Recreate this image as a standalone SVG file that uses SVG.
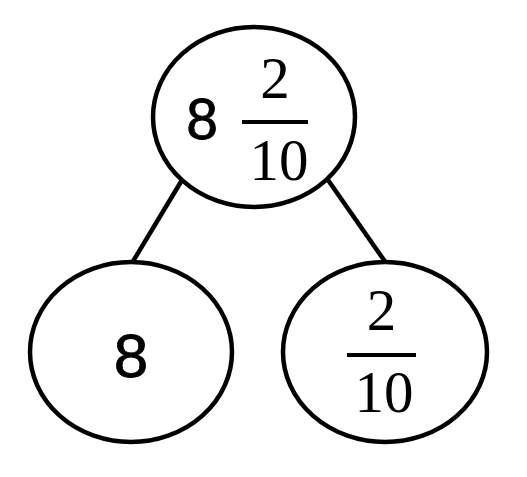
<svg xmlns="http://www.w3.org/2000/svg" width="527" height="477" viewBox="0 0 527 477">
<style>
.node{fill:#fff;stroke:#000;stroke-width:4.5}
.edge{stroke:#000;stroke-width:4.5;fill:none}
.sans{font-family:"Liberation Sans","DejaVu Sans",sans-serif;fill:#000;stroke:#000;stroke-width:0.8;text-anchor:middle}
.serif{font-family:"Liberation Serif","Times New Roman",serif;fill:#000;text-anchor:middle}
.bar{stroke:#000;stroke-width:4}
</style>
<rect width="527" height="477" fill="#fff"/>
<g id="connectors">
<line class="edge" x1="182" y1="180" x2="132" y2="263"/>
<line class="edge" x1="328" y1="180" x2="386" y2="263"/>
</g>
<g id="node-top">
<ellipse class="node" cx="254" cy="117" rx="101" ry="90"/>
<text class="sans" x="202" y="138.5" font-size="57">8</text>
<text class="serif" x="275" y="98" font-size="59">2</text>
<line class="bar" x1="242" y1="122" x2="308" y2="122"/>
<text class="serif" x="279" y="180" font-size="59">10</text>
</g>
<g id="node-left">
<ellipse class="node" cx="131" cy="352" rx="101" ry="90"/>
<text class="sans" x="131" y="376.5" font-size="62">8</text>
</g>
<g id="node-right">
<ellipse class="node" cx="385" cy="352" rx="102" ry="90"/>
<text class="serif" x="381.5" y="330" font-size="59">2</text>
<line class="bar" x1="347" y1="355" x2="416" y2="355"/>
<text class="serif" x="384" y="412" font-size="59">10</text>
</g>
</svg>
